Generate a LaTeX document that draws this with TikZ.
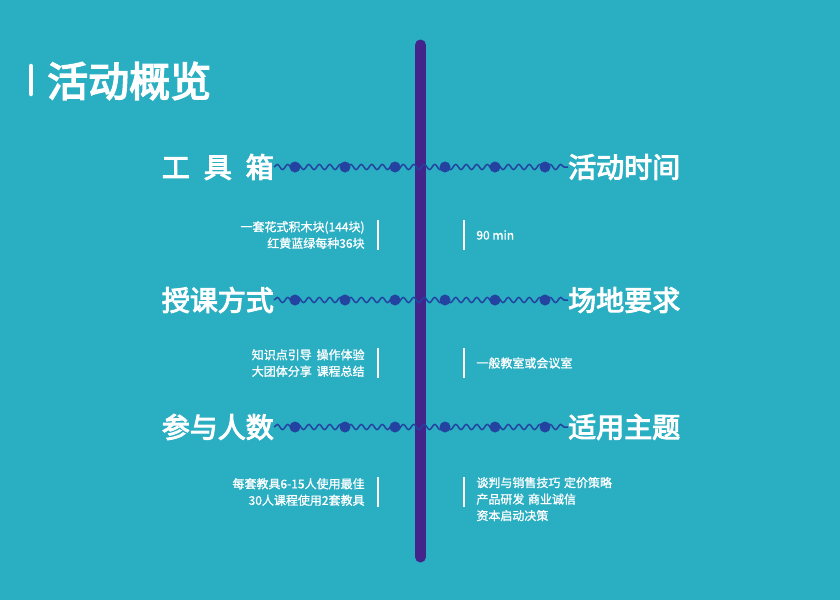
\documentclass[tikz,border=0pt]{standalone}
\usepackage{fontspec}
\newfontfamily\cjk{Noto Sans CJK SC}
\newfontfamily\cjkmid[FakeBold=1.2]{Noto Sans CJK SC}
\newfontfamily\cjkheavy[FakeBold=3.6]{Noto Sans CJK SC}
\usetikzlibrary{positioning, decorations.pathmorphing}

\definecolor{bgteal}{HTML}{29AEC2}
\definecolor{spinepurple}{HTML}{43248A}
\definecolor{wavyblue}{HTML}{2442A0}

\begin{document}
\begin{tikzpicture}[
    x=1pt, y=-1pt,
    % Styles
    base/.style={text=white, inner sep=0pt, font=\cjk},
    title/.style={base, font=\cjkheavy\fontsize{41}{46}\selectfont},
    heading/.style={base, font=\cjkheavy\fontsize{28}{33}\selectfont},
    note/.style={base, font=\cjkmid\fontsize{12}{16.5}\selectfont},
    leftnote/.style={note, align=right},
    rightnote/.style={note, align=left},
    sidebar/.style={rectangle, fill=white, minimum width=2pt, minimum height=30pt, inner sep=0pt},
    spine/.style={draw=spinepurple, line width=11pt, line cap=round},
    wave/.style={draw=wavyblue, line width=1.5pt, decorate, decoration={snake, segment length=10.5pt, amplitude=2.6pt}},
    bead/.style={fill=wavyblue}
]

    % --- Background ---
    \fill[bgteal] (0,0) rectangle (840,600);
    \useasboundingbox (0,0) rectangle (840,600);

    % --- Title ---
    \node[title, anchor=west] (overview) at (47,81) {活动概览};
    \coordinate (marktop) at (31,66);
    \coordinate (markbot) at (31,94);
    \draw[white, line width=4.5pt, line cap=round] (marktop) -- (markbot);

    % --- Spine ---
    \coordinate (spinetop) at (420.5,45);
    \coordinate (spinebot) at (420.5,557);
    \draw[spine] (spinetop) -- (spinebot);

    % --- Row 1 ---
    \node[heading, anchor=east] (tools) at (274,167) {工\hspace{0.5em}具\hspace{0.5em}箱};
    \node[heading, anchor=west] (time) at (568,167) {活动时间};
    \draw[wave] (tools.east) -- (tools.east -| time.west);

    \node[sidebar] (toolsbar) at (378,235) {};
    \node[leftnote, left=12pt of toolsbar] (toolsnote) {一套花式积木块(144块)\\红黄蓝绿每种36块};
    \node[sidebar] (timebar) at (464,235) {};
    \node[rightnote, right=11pt of timebar] (timenote) {90 min};

    % --- Row 2 ---
    \node[heading, anchor=east] (method) at (274,300) {授课方式};
    \node[heading, anchor=west] (venue) at (568,300) {场地要求};
    \draw[wave] (method.east) -- (method.east -| venue.west);

    \node[sidebar] (methodbar) at (378,363) {};
    \node[leftnote, left=12pt of methodbar] (methodnote) {知识点引导\hspace{0.4em}操作体验\\大团体分享\hspace{0.4em}课程总结};
    \node[sidebar] (venuebar) at (464,363) {};
    \node[rightnote, right=11pt of venuebar] (venuenote) {一般教室或会议室};

    % --- Row 3 ---
    \node[heading, anchor=east] (people) at (274,427) {参与人数};
    \node[heading, anchor=west] (topic) at (568,427) {适用主题};
    \draw[wave] (people.east) -- (people.east -| topic.west);

    \node[sidebar] (peoplebar) at (378,492) {};
    \node[leftnote, left=12pt of peoplebar] (peoplenote) {每套教具6-15人使用最佳\\30人课程使用2套教具};
    \node[sidebar] (topicbar) at (464,492) {};
    \node[rightnote, right=11pt of topicbar.north east, anchor=north west] (topicnote) {谈判与销售技巧\hspace{0.3em}定价策略\\产品研发\hspace{0.3em}商业诚信\\资本启动决策};

    % Beads on the waves
    \foreach \ry in {167,300,427}
        \foreach \bx in {295,345,...,545}
            \fill[bead] (\bx,\ry) circle (5.5pt);

\end{tikzpicture}
\end{document}
